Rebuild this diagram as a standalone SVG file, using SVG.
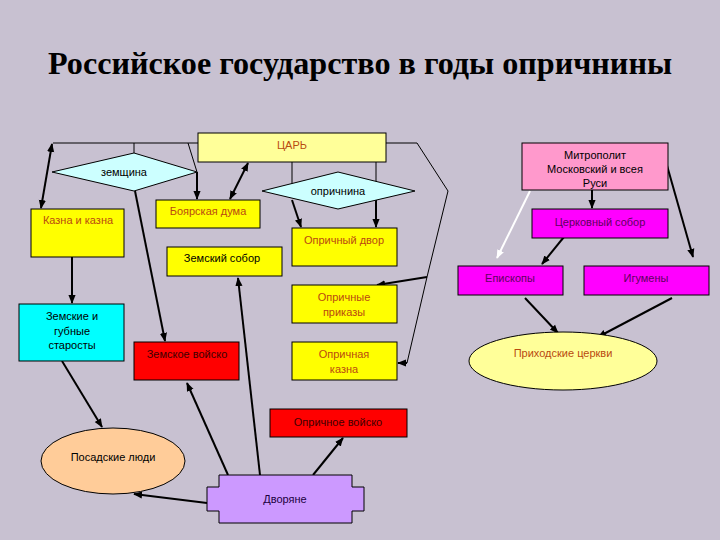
<svg xmlns="http://www.w3.org/2000/svg" width="720" height="540" viewBox="0 0 720 540">
<style>
text{font-family:"Liberation Sans",Arial,sans-serif;font-size:11px;text-anchor:middle}
.title{font-family:"Liberation Serif","Times New Roman",serif;font-size:32px;font-weight:bold;text-anchor:start;fill:#000}
.box{stroke:#000;stroke-width:1}
.ly{fill:#FFFF99}
.y{fill:#FFFF00}
.r{fill:#FF0000}
.c{fill:#00FFFF}
.m{fill:#FF00FF}
.pk{fill:#FF99CC}
.dia{fill:#CCFFFF}
.or{fill:#B94A10}
.bk{fill:#000}
.dr{fill:#400000}
.pu{fill:#600060}
.ln{fill:none;stroke:#000;stroke-width:1}
.ar{fill:none;stroke:#000;stroke-width:2;marker-end:url(#ah)}
.ar2{fill:none;stroke:#000;stroke-width:2;marker-end:url(#ah);marker-start:url(#ahs)}
.arw{fill:none;stroke:#fff;stroke-width:2;marker-end:url(#ahw)}
</style>
<defs>
<marker id="ah" viewBox="0 0 10 10" refX="9" refY="5" markerWidth="9" markerHeight="9" markerUnits="userSpaceOnUse" orient="auto"><path d="M0,1 L10,5 L0,9 z" fill="#000"/></marker>
<marker id="ahs" viewBox="0 0 10 10" refX="9" refY="5" markerWidth="9" markerHeight="9" markerUnits="userSpaceOnUse" orient="auto-start-reverse"><path d="M0,1 L10,5 L0,9 z" fill="#000"/></marker>
<marker id="ahw" viewBox="0 0 10 10" refX="9" refY="5" markerWidth="9" markerHeight="9" markerUnits="userSpaceOnUse" orient="auto"><path d="M0,1 L10,5 L0,9 z" fill="#fff"/></marker>
</defs>
<rect x="0" y="0" width="720" height="540" fill="#C8C1D1"/>
<text class="title" x="48" y="74" textLength="624" lengthAdjust="spacingAndGlyphs">Российское государство в годы опричнины</text>

<g id="connectors">
<path class="ln" d="M198,143 H53"/>
<path class="ar2" d="M52,144 L41,208"/>
<path class="ln" d="M134,143 V153"/>
<path class="ln" d="M188,143 L197,172"/>
<path class="ar" d="M197,172 V199"/>
<path class="ar2" d="M248,163 L230,199"/>
<path class="ar" d="M135,191 L165,341"/>
<path class="ln" d="M292,162 V185"/>
<path class="ln" d="M376,162 V185"/>
<path class="ar" d="M292,200 L301,227"/>
<path class="ar" d="M376,200 V227"/>
<path class="ln" d="M386,143 H417 L448,191 L427,277 L407,363"/>
<path class="ar" d="M427,277 L377,285"/>
<path class="ar" d="M407,363 H398"/>
<path class="ar" d="M72,257 V303"/>
<path class="ar" d="M62,361 L102,427"/>
<path class="ar" d="M260,475 L238,278"/>
<path class="ar" d="M228,475 L187,383"/>
<path class="ar" d="M207,503 L134,494"/>
<path class="ar" d="M313,475 L343,438"/>
<path class="ar" d="M592,190 V208"/>
<path class="ar" d="M568,232 L542,264"/>
<path class="arw" d="M530,191 L497,258"/>
<path class="ar" d="M666,162 L693,257"/>
<path class="ar" d="M525,298 L558,333"/>
<path class="ar" d="M672,298 L598,337"/>
</g>

<g id="tsar"><rect class="box ly" x="198" y="133" width="188" height="29"/><text class="or" x="292" y="149">ЦАРЬ</text></g>
<g id="zemshchina"><polygon class="box dia" points="52,172 134,153 197,172 134,191"/><text class="bk" x="124" y="176">земщина</text></g>
<g id="oprichnina"><polygon class="box dia" points="262,191 338,172 415,191 338,209"/><text class="bk" x="338" y="195">опричнина</text></g>
<g id="kazna"><rect class="box y" x="31" y="209" width="93" height="48"/><text class="or" x="78" y="224">Казна и казна</text></g>
<g id="boyar-duma"><rect class="box y" x="156" y="200" width="104" height="28"/><text class="or" x="208" y="215">Боярская дума</text></g>
<g id="oprich-dvor"><rect class="box y" x="292" y="228" width="105" height="38"/><text class="or" x="344" y="244">Опричный двор</text></g>
<g id="zemsky-sobor"><rect class="box y" x="167" y="247" width="115" height="29"/><text class="bk" x="222" y="262">Земский  собор</text></g>
<g id="zemskie-starosty"><rect class="box c" x="19" y="304" width="105" height="57"/><text class="bk" x="72" y="320">Земские и</text><text class="bk" x="72" y="335">губные</text><text class="bk" x="72" y="349">старосты</text></g>
<g id="zemskoe-voysko"><rect class="box r" x="134" y="342" width="105" height="38"/><text class="dr" x="187" y="358">Земское войско</text></g>
<g id="oprich-prikazy"><rect class="box y" x="292" y="285" width="105" height="38"/><text class="or" x="344" y="301">Опричные</text><text class="or" x="344" y="316">приказы</text></g>
<g id="oprich-kazna"><rect class="box y" x="292" y="342" width="105" height="38"/><text class="or" x="344" y="358">Опричная</text><text class="or" x="344" y="373">казна</text></g>
<g id="oprich-voysko"><rect class="box r" x="270" y="409" width="137" height="28"/><text class="dr" x="338" y="426">Опричное войско</text></g>
<g id="posadskie"><ellipse class="box" fill="#FFCC99" cx="113" cy="461" rx="72" ry="33"/><text class="bk" x="113" y="461">Посадские люди</text></g>
<g id="dvoryane"><path class="box" fill="#CC99FF" d="M219,475 H352 V487 H364 V511 H352 V523 H219 V511 H207 V487 H219 Z"/><text fill="#200040" x="285" y="503">Дворяне</text></g>
<g id="mitropolit"><rect class="box pk" x="522" y="143" width="146" height="47"/><text class="bk" x="595" y="159">Митрополит</text><text class="bk" x="595" y="173">Московский и всея</text><text class="bk" x="595" y="187">Руси</text></g>
<g id="tserk-sobor"><rect class="box m" x="532" y="209" width="136" height="29"/><text class="pu" x="600" y="226">Церковный собор</text></g>
<g id="episkopy"><rect class="box m" x="458" y="266" width="105" height="29"/><text class="pu" x="510" y="282">Епископы</text></g>
<g id="igumeny"><rect class="box m" x="584" y="266" width="125" height="29"/><text class="pu" x="646" y="282">Игумены</text></g>
<g id="prikhod"><ellipse class="box ly" cx="563" cy="361" rx="94" ry="29"/><text class="or" x="563" y="357">Приходские церкви</text></g>
</svg>
